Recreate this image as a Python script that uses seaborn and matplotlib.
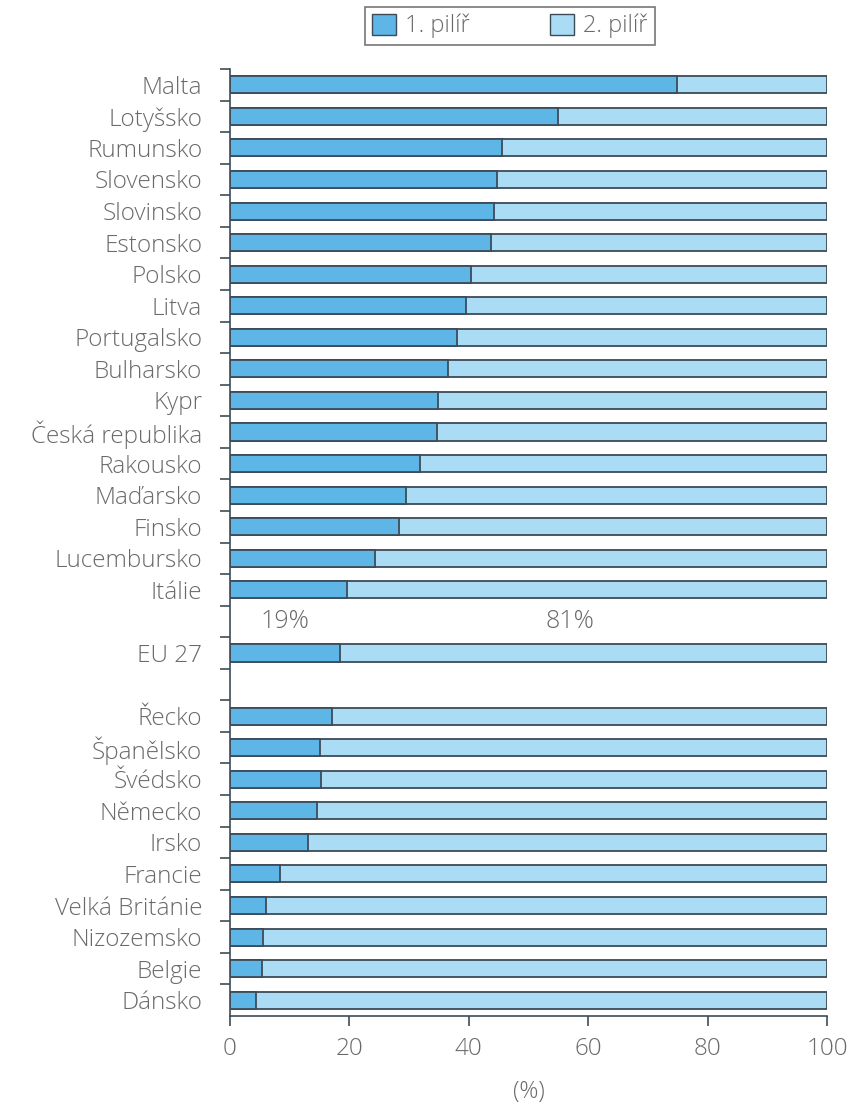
import pandas as pd
import matplotlib.pyplot as plt
import seaborn as sns
from matplotlib.patches import Patch

# data (share of 1st pillar, %)
countries = ["Malta", "Lotyšsko", "Rumunsko", "Slovensko", "Slovinsko", "Estonsko",
             "Polsko", "Litva", "Portugalsko", "Bulharsko", "Kypr", "Česká republika",
             "Rakousko", "Maďarsko", "Finsko", "Lucembursko", "Itálie",
             "EU 27",
             "Řecko", "Španělsko", "Švédsko", "Německo", "Irsko", "Francie",
             "Velká Británie", "Nizozemsko", "Belgie", "Dánsko"]
pillar1 = [74.9, 55.0, 45.5, 44.7, 44.2, 43.7,
           40.4, 39.6, 38.0, 36.5, 34.9, 34.6,
           31.8, 29.4, 28.3, 24.3, 19.6,
           18.5,
           17.0, 15.1, 15.2, 14.6, 13.1, 8.4,
           6.0, 5.6, 5.3, 4.3]
total = [100] * len(countries)

# row order incl. two empty gap rows around EU 27
order = countries[:17] + [" "] + ["EU 27"] + ["  "] + countries[18:]

eu_labels = ["19%", "81%"]
eu_label_x = [9.2, 57]

legend_labels = ["1. pilíř", "2. pilíř"]
c1 = "#5db6e6"
c2 = "#abdcf5"
edge = "#3d4b58"
txt = "#6a6a6a"

df = pd.DataFrame({"country": countries, "p1": pillar1, "total": total})

sns.set_theme(style="white")
plt.rcParams["font.family"] = ["Open Sans", "DejaVu Sans"]
plt.rcParams["font.weight"] = "light"
plt.rcParams["axes.labelweight"] = "light"

fig = plt.figure(figsize=(8.57, 11.04), dpi=100)
ax = fig.add_axes([0.2684, 0.0797, 0.9650 - 0.2684, 0.9375 - 0.0797])

sns.barplot(data=df, x="total", y="country", order=order, orient="h",
            color=c2, edgecolor=edge, linewidth=1.3, width=0.54, ax=ax, saturation=1)
sns.barplot(data=df, x="p1", y="country", order=order, orient="h",
            color=c1, edgecolor=edge, linewidth=1.3, width=0.54, ax=ax, saturation=1)

ax.set_xlim(0, 100)
ax.set_ylim(len(order) - 0.5, -0.5)
ax.set_xlabel("(%)", fontsize=17, color=txt, labelpad=14, fontweight="light")
ax.set_ylabel("")

# EU 27 split labels in the gap row above it
gap_row = order.index(" ")
for lab, xv in zip(eu_labels, eu_label_x):
    ax.text(xv, gap_row, lab, ha="center", va="center", fontsize=18, color=txt)

# category labels without ticks, separator ticks between rows
ax.tick_params(axis="y", which="major", length=0, pad=20, labelsize=17.5, labelcolor=txt)
ax.set_yticks([i - 0.5 for i in range(len(order))], minor=True)
ax.tick_params(axis="y", which="minor", length=7, width=1.2, color=edge, left=True)
ax.set_xticks([0, 20, 40, 60, 80, 100])
ax.tick_params(axis="x", length=7, width=1.2, color=edge, bottom=True,
               labelsize=17.5, labelcolor=txt, pad=8)

for s in ["top", "right"]:
    ax.spines[s].set_visible(False)
for s in ["left", "bottom"]:
    ax.spines[s].set_color(edge)
    ax.spines[s].set_linewidth(1.2)

handles = [Patch(facecolor=c1, edgecolor=edge, linewidth=1),
           Patch(facecolor=c2, edgecolor=edge, linewidth=1)]
leg = fig.legend(handles, legend_labels, loc="center", ncol=2,
                 bbox_to_anchor=(510 / 857, 1 - 26 / 1104), fontsize=17,
                 frameon=True, fancybox=False, edgecolor="#555555",
                 handlelength=1.0, handleheight=1.0, handletextpad=0.4,
                 columnspacing=3.4, borderpad=0.3, borderaxespad=0)
leg.get_frame().set_linewidth(1.2)
for t in leg.get_texts():
    t.set_color(txt)

plt.savefig("out.png", dpi=100)
